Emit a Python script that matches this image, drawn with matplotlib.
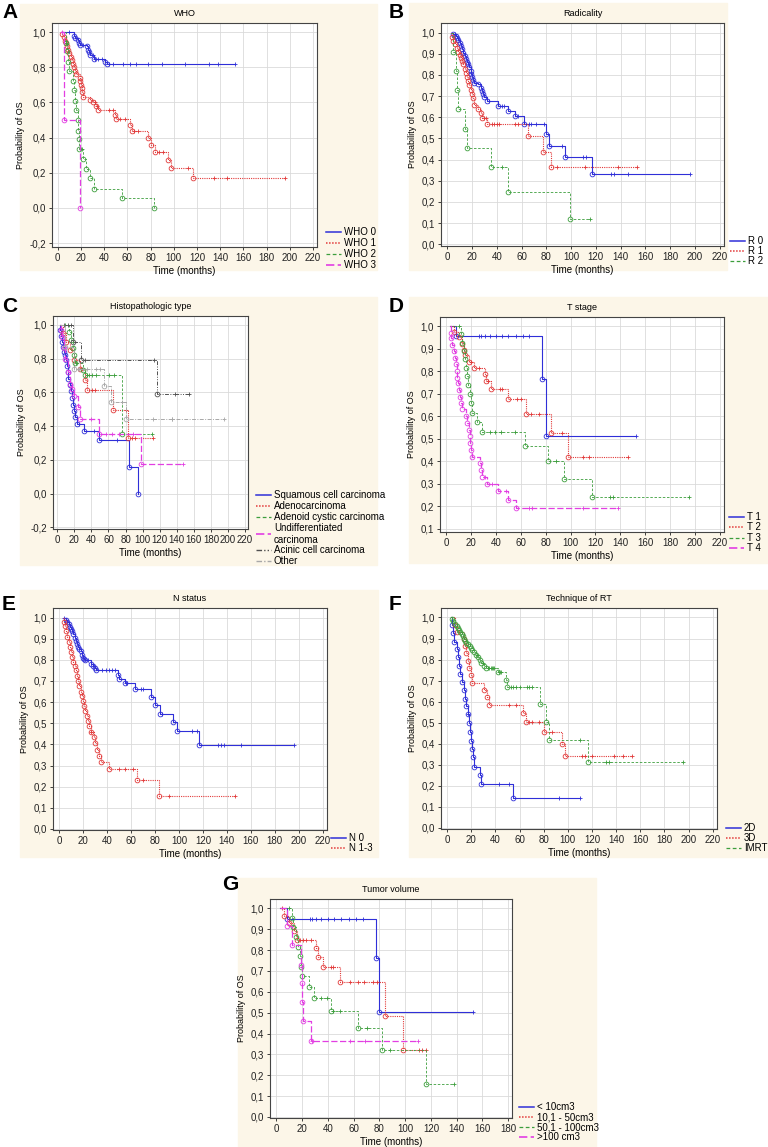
import numpy as np
import matplotlib.pyplot as plt
from matplotlib.lines import Line2D
from matplotlib.patches import Rectangle
from matplotlib.ticker import FuncFormatter

plt.rcParams['font.family'] = ['Liberation Sans', 'DejaVu Sans']

W, H = 768, 1147

# ---- A: WHO ----
who_labels = ['WHO 0', 'WHO 1', 'WHO 2', 'WHO 3']
who0_t = [14, 15, 17, 18, 19, 25, 26, 27, 28, 31, 41, 42]
who0_s = [0.98, 0.965, 0.955, 0.94, 0.925, 0.92, 0.90, 0.885, 0.87, 0.85, 0.83, 0.82]
who0_c = [10, 22, 30, 32, 35, 38, 44, 48, 56, 62, 67, 78, 90, 110, 130, 138, 153]
who1_t = [4, 5, 6, 7, 8, 9, 10, 11, 12, 13, 14, 15, 16, 19, 19.5, 20, 20.5, 21, 21.5, 28, 30, 33, 35,
          49, 50, 62, 64, 78, 80, 84, 95, 98, 117]
who1_s = [0.99, 0.97, 0.95, 0.94, 0.92, 0.90, 0.88, 0.86, 0.84, 0.82, 0.80, 0.78, 0.76, 0.74, 0.72,
          0.70, 0.68, 0.66, 0.63, 0.615, 0.60, 0.58, 0.56, 0.53, 0.505, 0.47, 0.44, 0.40, 0.36, 0.32,
          0.27, 0.23, 0.17]
who1_c = [32, 34, 44, 48, 54, 58, 66, 69, 87, 91, 112, 135, 146, 196]
who2_t = [7, 8, 9, 10, 13, 14, 15, 16, 17, 17.5, 18, 18.5, 22, 24, 28, 31, 55, 83]
who2_s = [0.94, 0.89, 0.83, 0.78, 0.72, 0.67, 0.61, 0.555, 0.50, 0.44, 0.39, 0.335, 0.28, 0.22,
          0.17, 0.11, 0.055, 0.0]
who2_c = [7, 21]
who3_t = [5, 19]
who3_s = [0.5, 0.0]
who3_c = [4]

# ---- B: Radicality ----
rad_labels = ['R 0', 'R 1', 'R 2']
r0_t = [5, 7, 8, 9, 10, 11, 12, 13, 14, 15, 16, 17, 18, 19, 19.5, 20, 21, 22, 25, 27, 28, 29, 30, 32,
        41, 49, 55, 62, 80, 82, 95, 117]
r0_s = [0.995, 0.985, 0.975, 0.965, 0.95, 0.935, 0.92, 0.905, 0.89, 0.875, 0.86, 0.85, 0.835, 0.82,
        0.805, 0.79, 0.775, 0.76, 0.755, 0.74, 0.725, 0.71, 0.695, 0.675, 0.655, 0.63, 0.605, 0.57,
        0.52, 0.465, 0.41, 0.33]
r0_c = [6, 34, 44, 46, 57, 66, 68, 72, 78, 93, 110, 112, 132, 135, 146, 196]
r1_t = [4, 5, 6, 8, 9, 10, 11, 12, 13, 14, 15, 16, 17, 18, 19, 20, 21, 22, 25, 27, 28, 32, 65, 77, 84]
r1_s = [0.98, 0.96, 0.945, 0.925, 0.91, 0.895, 0.88, 0.865, 0.85, 0.83, 0.81, 0.79, 0.77, 0.75,
        0.73, 0.71, 0.69, 0.66, 0.64, 0.62, 0.595, 0.57, 0.51, 0.435, 0.365]
r1_c = [30, 31, 36, 38, 40, 42, 55, 57, 89, 111, 138, 153]
r2_t = [5, 7, 8, 9, 14, 16, 35, 49, 99]
r2_s = [0.91, 0.82, 0.73, 0.64, 0.545, 0.455, 0.365, 0.245, 0.12]
r2_c = [44, 115]

# ---- C: Histopathologic type ----
hist_labels = ['Squamous cell carcinoma', 'Adenocarcinoma', 'Adenoid cystic carcinoma',
               'Undifferentiated\ncarcinoma', 'Acinic cell carcinoma', 'Other']
sq_t = [3, 4, 5, 7, 8, 9, 10, 11, 12, 13, 15, 16, 17, 19, 20, 21, 23, 31, 49, 84, 95]
sq_s = [0.97, 0.935, 0.90, 0.87, 0.84, 0.82, 0.79, 0.755, 0.72, 0.68, 0.645, 0.605, 0.565, 0.525,
        0.49, 0.455, 0.415, 0.37, 0.315, 0.155, 0.0]
sq_c = [25, 43, 70]
ad_t = [7, 10, 15, 20, 27, 32, 35, 65, 83]
ad_s = [0.95, 0.90, 0.85, 0.79, 0.74, 0.675, 0.615, 0.495, 0.33]
ad_c = [28, 41, 44, 80, 87, 91, 112]
acc_t = [14, 16, 18, 20, 21, 30, 33, 76]
acc_s = [0.955, 0.91, 0.865, 0.82, 0.775, 0.735, 0.70, 0.35]
acc_c = [9, 22, 35, 37, 41, 45, 61, 67, 111]
und_t = [4, 6, 8, 9, 12, 15, 17, 20, 24, 27, 49, 98]
und_s = [0.97, 0.93, 0.86, 0.80, 0.72, 0.65, 0.62, 0.58, 0.51, 0.44, 0.35, 0.175]
und_c = [40, 57, 64, 72, 89, 147]
aci_t = [18, 28, 117]
aci_s = [0.90, 0.79, 0.59]
aci_c = [8, 12, 16, 33, 113, 138, 154]
oth_t = [9, 20, 55, 63, 81]
oth_s = [0.87, 0.74, 0.64, 0.545, 0.44]
oth_c = [24, 26, 30, 35, 45, 50, 76, 112, 134, 135, 195]

# ---- D: T stage ----
t_labels = ['T 1', 'T 2', 'T 3', 'T 4']
t1_t = [8, 77, 80]
t1_s = [0.955, 0.765, 0.51]
t1_c = [26, 28, 31, 35, 40, 45, 50, 56, 62, 67, 153]
t2_t = [6, 10, 13, 14, 15, 18, 22, 31, 32, 36, 50, 64, 84, 98]
t2_s = [0.975, 0.95, 0.92, 0.895, 0.87, 0.84, 0.815, 0.785, 0.755, 0.72, 0.675, 0.61, 0.525, 0.42]
t2_c = [20, 26, 34, 43, 45, 57, 60, 68, 75, 93, 110, 115, 146]
t3_t = [12, 13, 14, 15, 16, 17, 17.5, 19, 20, 21, 25, 29, 63, 82, 95, 117]
t3_s = [0.965, 0.925, 0.89, 0.855, 0.815, 0.78, 0.74, 0.70, 0.66, 0.615, 0.575, 0.53, 0.465, 0.40,
        0.32, 0.24]
t3_c = [10, 35, 39, 44, 55, 88, 132, 134, 195]
t4_t = [3.5, 4, 5, 6, 7, 8, 8.5, 9, 9.5, 10, 11, 12, 13, 16, 17, 18, 19, 19.5, 20, 21, 27, 28, 29,
        33, 42, 50, 56]
t4_s = [0.97, 0.945, 0.915, 0.89, 0.86, 0.83, 0.80, 0.77, 0.745, 0.715, 0.685, 0.66, 0.63, 0.60,
        0.57, 0.54, 0.51, 0.48, 0.45, 0.42, 0.39, 0.36, 0.33, 0.30, 0.265, 0.225, 0.19]
t4_c = [31, 37, 48, 67, 69, 110, 138]

# ---- E: N status ----
n_labels = ['N 0', 'N 1-3']
n0_t = [6, 7, 8, 9, 10, 11, 12, 13, 14, 15, 16, 17, 18, 19, 20, 21, 22, 27, 28, 30, 31, 49, 50, 55,
        63, 77, 80, 84, 95, 98, 117]
n0_s = [0.99, 0.98, 0.97, 0.955, 0.945, 0.935, 0.92, 0.905, 0.89, 0.875, 0.86, 0.85, 0.84, 0.825,
        0.81, 0.805, 0.80, 0.78, 0.77, 0.76, 0.75, 0.73, 0.71, 0.69, 0.66, 0.625, 0.585, 0.545,
        0.505, 0.465, 0.395]
n0_c = [4, 24, 29, 36, 39, 42, 44, 47, 56, 57, 68, 70, 86, 111, 115, 133, 135, 138, 152, 196]
n1_t = [4, 5, 6, 7, 8, 9, 10, 11, 12, 13, 14, 15, 16, 17, 18, 19, 20, 21, 22, 23, 24, 25, 27, 29,
        30, 32, 33, 35, 42, 65, 83]
n1_s = [0.98, 0.96, 0.935, 0.91, 0.885, 0.86, 0.835, 0.815, 0.79, 0.77, 0.75, 0.725, 0.70, 0.675,
        0.65, 0.63, 0.605, 0.58, 0.56, 0.535, 0.51, 0.485, 0.46, 0.435, 0.405, 0.375, 0.345, 0.315,
        0.285, 0.23, 0.155]
n1_c = [27, 50, 55, 62, 70, 92, 147]

# ---- F: Technique of RT ----
rt_labels = ['2D', '3D', 'IMRT']
d2_t = [4, 5, 6, 8, 9, 10, 11, 12, 14, 15, 16, 17, 18, 19, 20, 21, 21.5, 22, 27, 28, 55]
d2_s = [0.965, 0.925, 0.885, 0.85, 0.81, 0.77, 0.73, 0.695, 0.655, 0.615, 0.58, 0.54, 0.50, 0.455,
        0.415, 0.375, 0.335, 0.29, 0.25, 0.21, 0.14]
d2_c = [17.5, 43, 51, 93, 110]
d3_t = [7, 8, 14, 15, 16, 17, 18, 20, 21, 31, 33, 35, 63, 65, 80, 95, 98]
d3_s = [0.965, 0.93, 0.90, 0.865, 0.83, 0.795, 0.76, 0.725, 0.69, 0.655, 0.62, 0.585, 0.545, 0.505,
        0.455, 0.40, 0.34]
d3_c = [51, 57, 68, 70, 76, 87, 112, 114, 120, 138, 146, 153]
im_t = [4, 5, 7, 8, 9, 10, 11, 12, 13, 14, 15, 16, 17, 19, 20, 21, 22, 24, 26, 27, 28, 31, 32, 42,
        49, 50, 77, 82, 84, 117]
im_s = [0.995, 0.985, 0.97, 0.96, 0.95, 0.94, 0.93, 0.92, 0.91, 0.90, 0.89, 0.88, 0.875, 0.865,
        0.855, 0.845, 0.835, 0.82, 0.81, 0.80, 0.785, 0.77, 0.76, 0.74, 0.705, 0.67, 0.59, 0.505,
        0.42, 0.315]
im_c = [25, 30, 34, 35, 36, 37, 38, 39, 43, 45, 53, 55, 57, 60, 66, 68, 70, 110, 132, 134, 195]

# ---- G: Tumor volume ----
vol_labels = ['< 10cm3', '10,1 - 50cm3', '50,1 - 100cm3', '>100 cm3']
v1_t = [8, 77, 80]
v1_s = [0.95, 0.76, 0.505]
v1_c = [26, 28, 31, 35, 40, 45, 50, 56, 62, 67, 153]
v2_t = [6, 10, 14, 16, 31, 32, 36, 49, 84, 98]
v2_s = [0.965, 0.93, 0.89, 0.85, 0.81, 0.765, 0.72, 0.645, 0.485, 0.32]
v2_c = [4, 18, 21, 23, 27, 42, 44, 57, 63, 68, 75, 78, 111, 113, 116]
v3_t = [12, 13, 15, 17, 18, 19, 20, 25, 29, 42, 63, 82, 116]
v3_s = [0.955, 0.91, 0.865, 0.815, 0.77, 0.72, 0.675, 0.625, 0.57, 0.51, 0.425, 0.32, 0.16]
v3_c = [10, 35, 39, 44, 49, 70, 88, 138]
v4_t = [8, 12, 19, 19.5, 20, 21, 27]
v4_s = [0.915, 0.825, 0.73, 0.64, 0.55, 0.46, 0.365]
v4_c = [28, 57, 69, 110]

BLUE = '#2f2fd8'
RED = '#e23a3a'
GREEN = '#3c9e3c'
MAG = '#e23ee2'
DGRAY = '#505050'
LGRAY = '#a8a8a8'
BEIGE = '#fcf6e8'

STY = {
    'solid': dict(color=BLUE, ls='-', lw=0.8),
    'dot': dict(color=RED, ls=(0, (1, 1)), lw=0.8),
    'dash': dict(color=GREEN, ls=(0, (3, 2)), lw=0.6),
    'long': dict(color=MAG, ls=(0, (5, 2)), lw=0.9),
    'dd': dict(color=DGRAY, ls=(0, (4, 1.5, 1, 1.5, 1, 1.5)), lw=0.7),
    'dg': dict(color=LGRAY, ls=(0, (4, 1.5, 1, 1.5)), lw=0.7),
}

fig = plt.figure(figsize=(W / 100, H / 100), dpi=100)


def px(x0, y0, x1, y1):
    return [x0 / W, 1 - y1 / H, (x1 - x0) / W, (y1 - y0) / H]


def box(x0, y0, x1, y1):
    fig.patches.append(Rectangle((x0 / W, 1 - y1 / H), (x1 - x0) / W, (y1 - y0) / H,
                                 transform=fig.transFigure, color=BEIGE, zorder=-10))


def km(ax, t, s, c, sty, start=3):
    tt = [start] + list(t)
    ss = [1.0] + list(s)
    end = max(tt[-1], max(c) if c else 0)
    st = STY[sty]
    ax.step(tt + [end], ss + [ss[-1]], where='post', **st)
    ax.plot(t, s, 'o', mfc='none', mec=st['color'], ms=3.4, mew=0.6)
    cs = [ss[np.searchsorted(tt, v, side='right') - 1] for v in c]
    ax.plot(c, cs, '+', color=st['color'], ms=3.5, mew=0.6)


comma = FuncFormatter(lambda v, p: ('%.1f' % v).replace('.', ','))


def setup(rect, title, xmax, xstep, ylim, ystep, ylo):
    ax = fig.add_axes(rect)
    ax.set_facecolor('white')
    ax.set_xlim(-5, xmax + 3.5)
    ax.set_ylim(*ylim)
    ax.set_xticks(np.arange(0, xmax + 1, xstep))
    ax.set_yticks(np.arange(ylo, 1.001, ystep))
    ax.yaxis.set_major_formatter(comma)
    ax.grid(True, color='#dadada', lw=0.6)
    ax.set_axisbelow(True)
    ax.tick_params(labelsize=7, length=2.5, width=0.6, pad=2, colors='#222222')
    for sp in ax.spines.values():
        sp.set_color('#444444')
        sp.set_linewidth(0.8)
    ax.set_title(title, fontsize=6.5, pad=5)
    ax.set_xlabel('Time (months)', fontsize=7, labelpad=2)
    ax.set_ylabel('Probability of OS', fontsize=6.5, labelpad=3)
    return ax


def legend(labels, stys, x, y, spacing=0.15):
    hs = []
    for k in stys:
        st = dict(STY[k])
        st['lw'] = st['lw'] + 0.3
        hs.append(Line2D([], [], **st))
    fig.legend(hs, labels, loc='upper left', bbox_to_anchor=(x / W, 1 - y / H), frameon=False,
               fontsize=7, handlelength=1.5, handletextpad=0.35, labelspacing=spacing,
               borderpad=0, borderaxespad=0)


def letter(ch, x, y):
    fig.text(x / W, 1 - y / H, ch, fontsize=15, fontweight='bold', ha='left', va='center')


# A
box(20, 4, 377, 270)
ax = setup(px(52, 23, 317, 247), 'WHO', 220, 20, (-0.222, 1.052), 0.2, -0.2)
km(ax, who0_t, who0_s, who0_c, 'solid')
km(ax, who1_t, who1_s, who1_c, 'dot')
km(ax, who2_t, who2_s, who2_c, 'dash')
km(ax, who3_t, who3_s, who3_c, 'long')
legend(who_labels, ['solid', 'dot', 'dash', 'long'], 326, 227, 0.1)
letter('A', 2, 13)

# B
box(409, 3, 727, 270)
ax = setup(px(441, 23, 724, 246), 'Radicality', 220, 20, (-0.008, 1.045), 0.1, 0.0)
km(ax, r0_t, r0_s, r0_c, 'solid')
km(ax, r1_t, r1_s, r1_c, 'dot')
km(ax, r2_t, r2_s, r2_c, 'dash')
legend(rad_labels, ['solid', 'dot', 'dash'], 730, 236, 0.0)
letter('B', 389, 13)

# C
box(20, 297, 377, 565)
ax = setup(px(53, 316, 248, 529), 'Histopathologic type', 220, 20, (-0.21, 1.052), 0.2, -0.2)
km(ax, sq_t, sq_s, sq_c, 'solid')
km(ax, ad_t, ad_s, ad_c, 'dot')
km(ax, acc_t, acc_s, acc_c, 'dash')
km(ax, und_t, und_s, und_c, 'long')
km(ax, aci_t, aci_s, aci_c, 'dd')
km(ax, oth_t, oth_s, oth_c, 'dg')
legend(hist_labels, ['solid', 'dot', 'dash', 'long', 'dd', 'dg'], 256, 490, 0.1)
letter('C', 2, 307)

# D
box(409, 297, 768, 563)
ax = setup(px(440, 317, 724, 532), 'T stage', 220, 20, (0.085, 1.04), 0.1, 0.1)
km(ax, t1_t, t1_s, t1_c, 'solid')
km(ax, t2_t, t2_s, t2_c, 'dot')
km(ax, t3_t, t3_s, t3_c, 'dash')
km(ax, t4_t, t4_s, t4_c, 'long')
legend(t_labels, ['solid', 'dot', 'dash', 'long'], 729, 512, 0.05)
letter('D', 389, 307)

# E
box(20, 590, 378, 857)
ax = setup(px(53, 608, 327, 830), 'N status', 220, 20, (-0.005, 1.045), 0.1, 0.0)
km(ax, n0_t, n0_s, n0_c, 'solid')
km(ax, n1_t, n1_s, n1_c, 'dot')
legend(n_labels, ['solid', 'dot'], 331, 833, 0.0)
letter('E', 2, 605)

# F
box(409, 590, 768, 857)
ax = setup(px(441, 608, 717, 829), 'Technique of RT', 220, 20, (-0.005, 1.045), 0.1, 0.0)
km(ax, d2_t, d2_s, d2_c, 'solid')
km(ax, d3_t, d3_s, d3_c, 'dot')
km(ax, im_t, im_s, im_c, 'dash')
legend(rt_labels, ['solid', 'dot', 'dash'], 726, 823, 0.0)
letter('F', 389, 604)

# G
box(238, 878, 596, 1147)
ax = setup(px(270, 899, 512, 1118), 'Tumor volume', 180, 20, (-0.005, 1.045), 0.1, 0.0)
ax.set_xlim(-5, 183)
km(ax, v1_t, v1_s, v1_c, 'solid')
km(ax, v2_t, v2_s, v2_c, 'dot')
km(ax, v3_t, v3_s, v3_c, 'dash')
km(ax, v4_t, v4_s, v4_c, 'long')
legend(vol_labels, ['solid', 'dot', 'dash', 'long'], 519, 1102, 0.0)
letter('G', 222, 885)

fig.savefig('out.png', dpi=100)
